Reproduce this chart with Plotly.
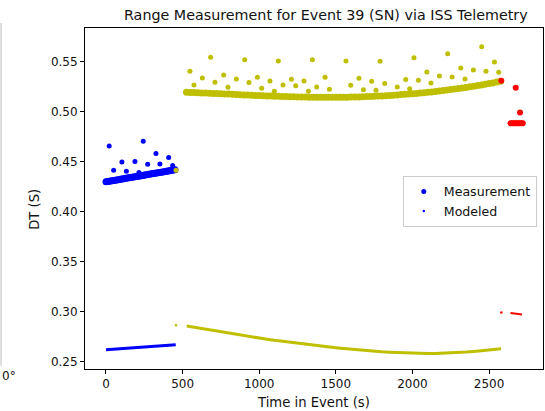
import plotly.graph_objects as go

# ---------------- data ----------------
# Blue (first pass) measurement band
blue_band_t = list(range(0, 460, 10))
blue_band_dt = [0.4300, 0.4303, 0.4305, 0.4308, 0.4311, 0.4313, 0.4316, 0.4319, 0.4321, 0.4324,
                0.4327, 0.4329, 0.4332, 0.4335, 0.4337, 0.4340, 0.4343, 0.4345, 0.4348, 0.4351,
                0.4353, 0.4356, 0.4359, 0.4361, 0.4364, 0.4367, 0.4369, 0.4372, 0.4375, 0.4377,
                0.4380, 0.4383, 0.4385, 0.4388, 0.4391, 0.4393, 0.4396, 0.4399, 0.4401, 0.4404,
                0.4407, 0.4409, 0.4412, 0.4415, 0.4417, 0.4420]
blue_out_t = [21, 50, 104, 133, 189, 215, 243, 272, 326, 352, 409, 435]
blue_out_dt = [0.4659, 0.4415, 0.4499, 0.4405, 0.4503, 0.4392, 0.4706, 0.4476, 0.4583, 0.4478, 0.4543, 0.4462]
blue_mod_t = [0, 50, 100, 150, 200, 250, 300, 350, 400, 455]
blue_mod_dt = [0.2618, 0.2624, 0.2629, 0.2635, 0.2640, 0.2646, 0.2651, 0.2657, 0.2662, 0.2668]

# Yellow (second pass) measurement band
yel_band_t = list(range(525, 2600, 25))
yel_band_dt = [0.5196, 0.5195, 0.5193, 0.5192, 0.5190, 0.5188, 0.5187, 0.5185, 0.5183, 0.5182,
               0.5180, 0.5178, 0.5176, 0.5174, 0.5172, 0.5170, 0.5168, 0.5166, 0.5165, 0.5163,
               0.5161, 0.5160, 0.5158, 0.5157, 0.5156, 0.5154, 0.5153, 0.5152, 0.5151, 0.5150,
               0.5149, 0.5148, 0.5147, 0.5147, 0.5146, 0.5146, 0.5146, 0.5146, 0.5146, 0.5146,
               0.5146, 0.5147, 0.5147, 0.5148, 0.5149, 0.5150, 0.5152, 0.5153, 0.5155, 0.5156,
               0.5158, 0.5160, 0.5162, 0.5165, 0.5167, 0.5170, 0.5173, 0.5176, 0.5179, 0.5182,
               0.5185, 0.5189, 0.5192, 0.5196, 0.5200, 0.5204, 0.5208, 0.5213, 0.5218, 0.5223,
               0.5228, 0.5234, 0.5239, 0.5245, 0.5251, 0.5257, 0.5263, 0.5270, 0.5276, 0.5283,
               0.5290, 0.5298, 0.5306]
yel_out_t = [457, 548, 574, 629, 683, 711, 768, 796, 851, 905, 933, 988, 1016, 1070, 1099, 1125,
             1155, 1210, 1238, 1292, 1321, 1347, 1375, 1430, 1458, 1566, 1597, 1651, 1680, 1734,
             1762, 1789, 1819, 1901, 1956, 1982, 2010, 2039, 2094, 2121, 2176, 2230, 2259, 2315,
             2343, 2398, 2452, 2480, 2535, 2563]
yel_out_dt = [0.4415, 0.5407, 0.5270, 0.5340, 0.5547, 0.5296, 0.5370, 0.5246, 0.5330, 0.5523,
              0.5293, 0.5347, 0.5236, 0.5310, 0.5206, 0.5510, 0.5270, 0.5326, 0.5262, 0.5310,
              0.5206, 0.5523, 0.5250, 0.5347, 0.5227, 0.5510, 0.5266, 0.5337, 0.5222, 0.5306,
              0.5216, 0.5507, 0.5283, 0.5250, 0.5323, 0.5232, 0.5543, 0.5316, 0.5400, 0.5290,
              0.5360, 0.5583, 0.5350, 0.5440, 0.5330, 0.5420, 0.5653, 0.5407, 0.5500, 0.5397]
yel_mod_t = [527, 550, 600, 650, 700, 750, 800, 850, 900, 950, 1000, 1050, 1100, 1150, 1200,
             1250, 1300, 1350, 1400, 1450, 1500, 1550, 1600, 1650, 1700, 1750, 1800, 1850,
             1900, 1950, 2000, 2050, 2100, 2150, 2200, 2250, 2300, 2350, 2400, 2450, 2500,
             2550, 2578]
yel_mod_dt = [0.2855, 0.2849, 0.2836, 0.2823, 0.2809, 0.2796, 0.2782, 0.2769, 0.2756, 0.2745,
              0.2734, 0.2723, 0.2712, 0.2702, 0.2692, 0.2683, 0.2673, 0.2664, 0.2655, 0.2646,
              0.2638, 0.2630, 0.2622, 0.2615, 0.2608, 0.2602, 0.2597, 0.2593, 0.2589, 0.2586,
              0.2583, 0.2581, 0.2580, 0.2581, 0.2583, 0.2586, 0.2590, 0.2595, 0.2601, 0.2608,
              0.2615, 0.2623, 0.2628]
yel_mod_pt_t = [457]
yel_mod_pt_dt = [0.2862]

# Red (third pass)
red_meas_t = [2580, 2674, 2702, 2640, 2650, 2660, 2670, 2680, 2690, 2700, 2710, 2720]
red_meas_dt = [0.5312, 0.5242, 0.4995, 0.4885, 0.4885, 0.4885, 0.4885, 0.4885, 0.4885, 0.4885, 0.4885, 0.4885]
red_mod_pt_t = [2580]
red_mod_pt_dt = [0.2990]
red_mod_t = [2640, 2660, 2680, 2700, 2715]
red_mod_dt = [0.2985, 0.2981, 0.2977, 0.2973, 0.2970]

BLUE = "#0000ff"
YEL = "#bfbf00"
RED = "#ff0000"

fig = go.Figure()

def meas(t, dt, color, size=5):
    fig.add_trace(go.Scatter(x=t, y=dt, mode="markers", showlegend=False, hoverinfo="skip",
                             marker=dict(color=color, size=size, line=dict(width=0))))

def modl(t, dt, color, width=2.5):
    fig.add_trace(go.Scatter(x=t, y=dt, mode="lines", showlegend=False, hoverinfo="skip",
                             line=dict(color=color, width=width)))

def modpt(t, dt, color):
    fig.add_trace(go.Scatter(x=t, y=dt, mode="markers", showlegend=False, hoverinfo="skip",
                             marker=dict(color=color, size=2.5, line=dict(width=0))))

meas(blue_band_t, blue_band_dt, BLUE, 7)
meas(blue_out_t, blue_out_dt, BLUE, 5)
modl(blue_mod_t, blue_mod_dt, BLUE, 3)
meas(yel_band_t, yel_band_dt, YEL, 7)
meas(yel_out_t, yel_out_dt, YEL, 5)
modl(yel_mod_t, yel_mod_dt, YEL, 3)
modpt(yel_mod_pt_t, yel_mod_pt_dt, YEL)
meas(red_meas_t, red_meas_dt, RED, 6)
modpt(red_mod_pt_t, red_mod_pt_dt, RED)
modl(red_mod_t, red_mod_dt, RED, 2)

# legend entries
fig.add_trace(go.Scatter(x=[None], y=[None], mode="markers", name="Measurement",
                         marker=dict(color=BLUE, size=5)))
fig.add_trace(go.Scatter(x=[None], y=[None], mode="markers", name="Modeled",
                         marker=dict(color=BLUE, size=2.5)))

L, R, T, B = 85, 543.3, 28, 369.3
W, H = 545, 411
pw, ph = R - L, B - T

def px(x):
    return (x - L) / pw

def py(y):
    return (B - y) / ph

font = "DejaVu Sans, Verdana, sans-serif"
fig.update_layout(
    width=W, height=H,
    margin=dict(l=L, r=W - R, t=T, b=H - B, pad=0),
    paper_bgcolor="white", plot_bgcolor="white",
    font=dict(family=font, size=12, color="#111"),
    title=dict(text="Range Measurement for Event 39 (SN) via ISS Telemetry",
               x=px(326), xref="paper", xanchor="center", y=1 - 15 / H, yanchor="middle",
               font=dict(size=14.3, color="#111")),
    xaxis=dict(range=[-137, 2852], tickvals=[0, 500, 1000, 1500, 2000, 2500],
               showgrid=False, zeroline=False, showline=True, mirror=True,
               linecolor="black", linewidth=1, ticks="outside", ticklen=4,
               tickcolor="black", tickfont=dict(size=12)),
    yaxis=dict(range=[0.2425, 0.584], tickvals=[0.25, 0.30, 0.35, 0.40, 0.45, 0.50, 0.55],
               tickformat=".2f", showgrid=False, zeroline=False, showline=True, mirror=True,
               linecolor="black", linewidth=1, ticks="outside", ticklen=4,
               tickcolor="black", tickfont=dict(size=12)),
    legend=dict(x=px(403), y=py(176), xanchor="left", yanchor="top",
                bordercolor="#cccccc", borderwidth=1, bgcolor="white",
                font=dict(size=12.6), itemwidth=30, tracegroupgap=0),
    annotations=[
        dict(text="Time in Event (s)", x=px(314), y=py(403), xref="paper", yref="paper",
             xanchor="center", yanchor="middle", showarrow=False, font=dict(size=13.2)),
        dict(text="DT (S)", x=px(35), y=py(210), xref="paper", yref="paper", textangle=-90,
             xanchor="center", yanchor="middle", showarrow=False, font=dict(size=13.2)),
        dict(text="0°", x=px(0), y=py(376), xref="paper", yref="paper",
             xanchor="left", yanchor="middle", showarrow=False, font=dict(size=12)),
    ],
    shapes=[
        dict(type="line", xref="paper", yref="paper", x0=px(1), x1=px(1),
             y0=py(366), y1=py(23), line=dict(color="#bbbbbb", width=1)),
    ],
)

fig.write_html("out.html", config={"displayModeBar": False},
               post_script="document.body.style.margin='0';")
